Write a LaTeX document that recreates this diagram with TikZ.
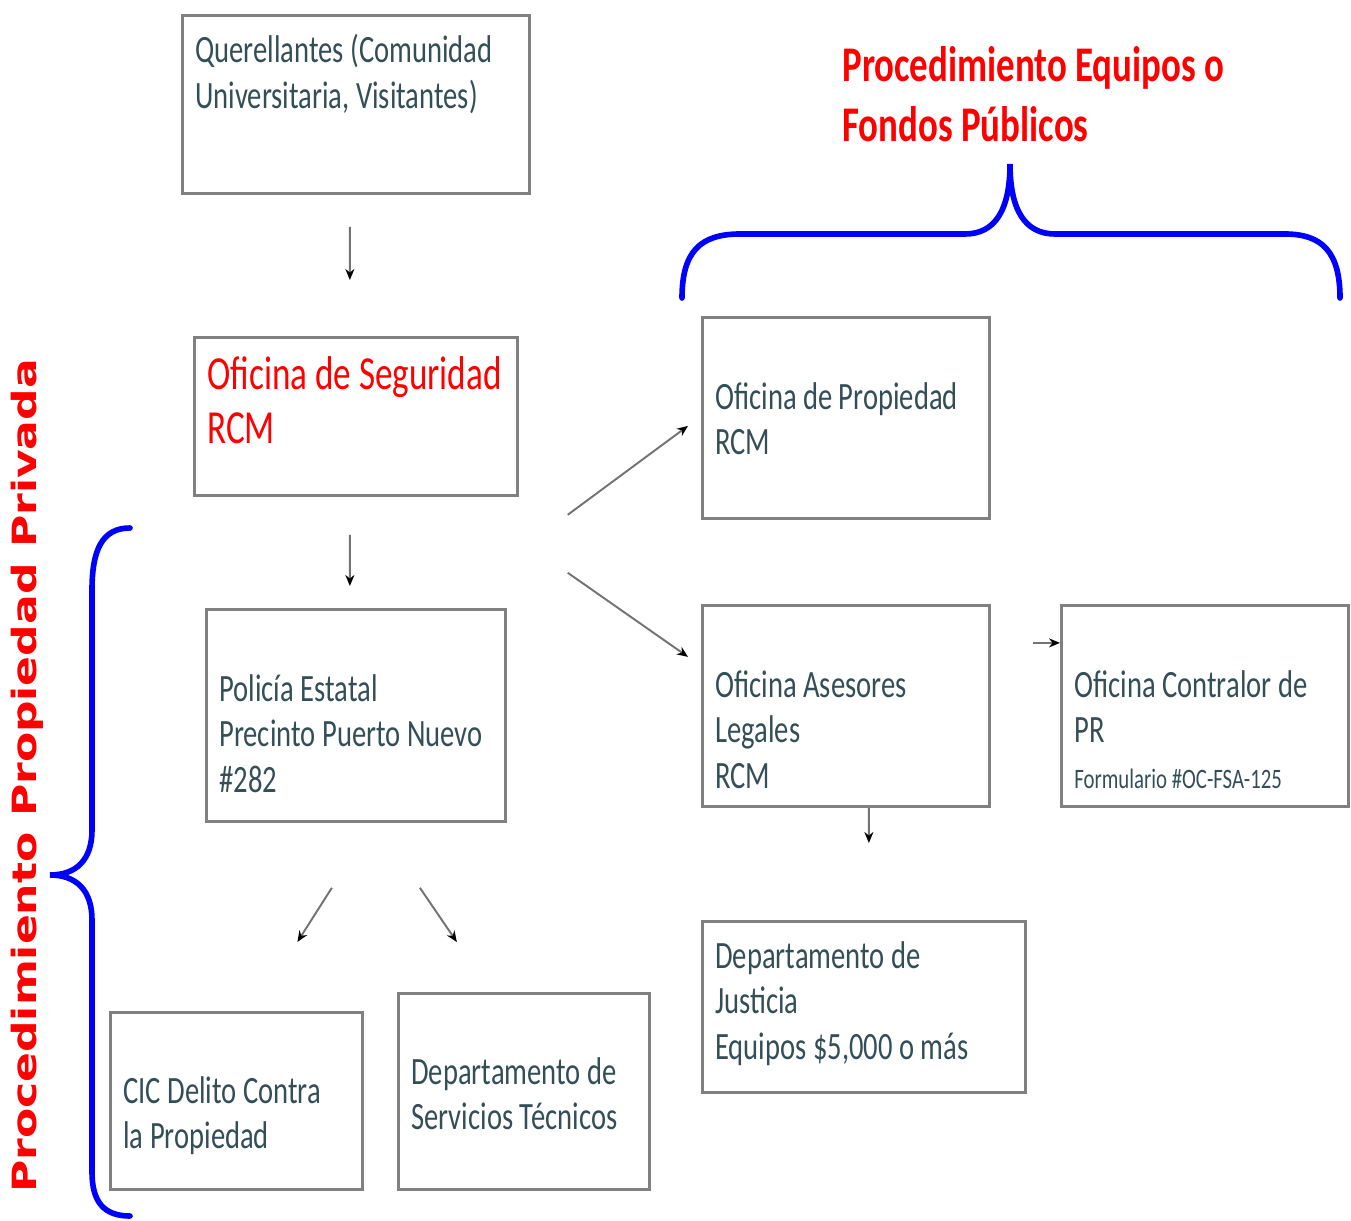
\documentclass[tikz,border=0pt]{standalone}
\usepackage{fontspec}
\setmainfont{Carlito}[FakeStretch=0.74, WordSpace=1.0]
\newfontfamily\sidefont{DejaVu Sans}[FakeStretch=1.32]
\usetikzlibrary{arrows.meta, positioning}
\definecolor{boxtext}{RGB}{52,78,88}
\definecolor{boxline}{RGB}{128,128,128}
\tikzset{
    box/.style={rectangle, draw=boxline, line width=1.6pt, anchor=north west, inner sep=0pt},
    label text/.style={anchor=north west, align=flush left, inner sep=0pt, text=boxtext, font=\fontsize{22}{26}\selectfont},
    red text/.style={label text, text=red, font=\fontsize{27}{31}\selectfont},
    title/.style={text=red, align=flush left, inner sep=0pt, font=\bfseries\fontsize{28.4}{34}\selectfont},
    arrow/.style={-{Stealth[length=0.22cm, width=0.18cm, black]}, line width=1.1pt, draw=gray!90!black},
    bracket/.style={draw=blue, line width=3.2pt, line cap=round}
}
\begin{document}
\begin{tikzpicture}[x=0.02cm, y=-0.02cm]
    \useasboundingbox (0,0) rectangle (1351,1220);

    % Left column
    \node[box, minimum width=6.94cm, minimum height=3.56cm] (quer) at (181,14) {};
    \node[label text] (quer-t) at ([shift={(14,20)}]quer.north west) {Querellantes (Comunidad\\Universitaria, Visitantes)};
    \node[box, minimum width=6.46cm, minimum height=3.16cm] (seg) at (193,336) {};
    \node[red text] (seg-t) at ([shift={(14,20)}]seg.north west) {Oficina de Seguridad\\RCM};
    \node[box, minimum width=5.98cm, minimum height=4.24cm] (pol) at (205,608) {};
    \node[label text] (pol-t) at ([shift={(14,66)}]pol.north west) {Policía Estatal\\Precinto Puerto Nuevo\\\#282};
    \node[box, minimum width=5.04cm, minimum height=3.54cm] (cic) at (109,1011) {};
    \node[label text] (cic-t) at ([shift={(14,65)}]cic.north west) {CIC Delito Contra\\la Propiedad};
    \node[box, minimum width=5.02cm, minimum height=3.92cm] (dst) at (397,992) {};
    \node[label text] (dst-t) at ([shift={(14,65)}]dst.north west) {Departamento de\\Servicios Técnicos};

    % Right column
    \node[box, minimum width=5.74cm, minimum height=4.02cm] (prop) at (701,316) {};
    \node[label text] (prop-t) at ([shift={(14,66)}]prop.north west) {Oficina de Propiedad\\RCM};
    \node[box, minimum width=5.74cm, minimum height=4.02cm] (ase) at (701,604) {};
    \node[label text] (ase-t) at ([shift={(14,66)}]ase.north west) {Oficina Asesores\\Legales\\RCM};
    \node[box, minimum width=5.74cm, minimum height=4.02cm] (con) at (1060,604) {};
    \node[label text] (con-t) at ([shift={(14,66)}]con.north west) {Oficina Contralor de\\PR\\{\fontsize{16}{18}\selectfont Formulario \#OC-FSA-125}};
    \node[box, minimum width=6.46cm, minimum height=3.42cm] (jus) at (701,920) {};
    \node[label text] (jus-t) at ([shift={(14,21)}]jus.north west) {Departamento de\\Justicia\\Equipos \$5,000 o más};

    % Titles
    \node[title, anchor=north west] (pubtitle) at (842,46) {Procedimiento Equipos o\\Fondos Públicos};
    \node[rotate=90, text=red, font=\sidefont\bfseries\fontsize{19}{22}\selectfont] (privtitle) at (27,776) {Procedimiento Propiedad Privada};

    % Braces
    \draw[bracket] (682,298) .. controls (682,252) and (700,234) .. (740,234) -- (965,234)
        .. controls (995,234) and (1010,210) .. (1010,164)
        .. controls (1010,210) and (1025,234) .. (1055,234) -- (1285,234)
        .. controls (1322,234) and (1340,252) .. (1340,298);
    \draw[bracket] (130,528) .. controls (102,528) and (92,550) .. (92,590) -- (92,830)
        .. controls (92,860) and (76,875) .. (50,875)
        .. controls (76,875) and (92,890) .. (92,920) -- (92,1172)
        .. controls (92,1202) and (104,1216) .. (130,1216);

    % Arrows
    \draw[arrow] ([shift={(-6,32)}]quer.south) -- ([shift={(-6,-56)}]seg.north);
    \draw[arrow] ([shift={(-6,38)}]seg.south) -- ([shift={(-6,-22)}]pol.north);
    \draw[arrow] ([shift={(49,18)}]seg.south east) -- ([shift={(-13,8)}]prop.west);
    \draw[arrow] ([shift={(49,76)}]seg.south east) -- ([shift={(-13,-49)}]ase.west);
    \draw[arrow] ([shift={(-24,65)}]pol.south) -- ([shift={(61,-69)}]cic.north);
    \draw[arrow] ([shift={(64,65)}]pol.south) -- ([shift={(-67,-50)}]dst.north);
    \draw[arrow] ([shift={(23,0)}]ase.south) -- ([shift={(5,-77)}]jus.north);
    \draw[arrow] ([shift={(42,-63)}]ase.east) -- ([shift={(0,-63)}]con.west);
\end{tikzpicture}
\end{document}
